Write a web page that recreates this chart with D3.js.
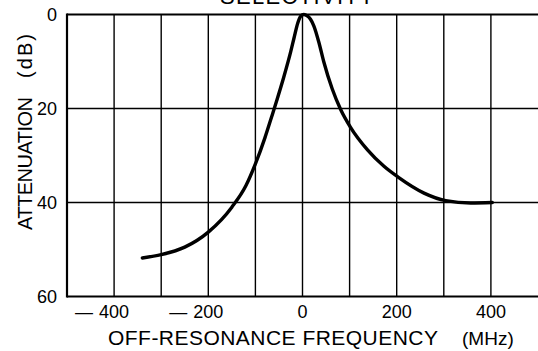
<!DOCTYPE html>
<html>
<head>
<meta charset="utf-8">
<script src="https://cdn.jsdelivr.net/npm/d3@7"></script>
<style>
  html, body { margin: 0; padding: 0; background: #fff; }
  svg { display: block; }
  text { font-family: "Liberation Sans", Arial, Helvetica, sans-serif; fill: #000; }
</style>
</head>
<body>
<svg id="chart" width="538" height="351"></svg>
<script>
// ---- data ----
const title = "SELECTIVITY";
const xTitle = "OFF-RESONANCE FREQUENCY";
const xUnit = "(MHz)";
const yTitle = "ATTENUATION";
const yUnit = "(dB)";
const xTicks = [-400, -200, 0, 200, 400];
const xGrid = [-400, -300, -200, -100, 0, 100, 200, 300, 400];
const yTicks = [0, 20, 40, 60];
const yGrid = [20, 40];
const freq = [-340, -300, -250, -200, -150, -120, -100, -80, -65, -55, -40, -25, -18, -10, -4, 3, 10, 17, 24, 35, 45, 63, 81, 102, 138, 173, 203, 258, 304, 357, 403];
const atten = [51.8, 51.1, 49.5, 46.3, 41.0, 36.4, 31.8, 26.3, 21.6, 18.4, 13.4, 7.9, 5.0, 1.8, 0.4, 0, 0.3, 1.0, 2.4, 6.0, 10.0, 15.8, 20.2, 24.0, 28.8, 32.3, 34.6, 38.0, 39.6, 40.1, 40.0];

// ---- chart ----
const svg = d3.select("#chart");
const x = d3.scaleLinear().domain([-500, 500]).range([67, 538]);
const y = d3.scaleLinear().domain([0, 60]).range([14.5, 296.5]);

// grid lines
svg.append("g").selectAll("line").data(xGrid).join("line")
  .attr("x1", d => x(d)).attr("x2", d => x(d))
  .attr("y1", y(0)).attr("y2", y(60))
  .attr("stroke", "#000").attr("stroke-width", 1.4);
svg.append("g").selectAll("line").data(yGrid).join("line")
  .attr("x1", x(-500)).attr("x2", x(500))
  .attr("y1", d => y(d)).attr("y2", d => y(d))
  .attr("stroke", "#000").attr("stroke-width", 1.4);

// frame: top, left, bottom
svg.append("line").attr("x1", x(-500)).attr("x2", x(500)).attr("y1", y(0)).attr("y2", y(0))
  .attr("stroke", "#000").attr("stroke-width", 2);
svg.append("line").attr("x1", x(-500)).attr("x2", x(500)).attr("y1", y(60)).attr("y2", y(60))
  .attr("stroke", "#000").attr("stroke-width", 2.2);
svg.append("line").attr("x1", x(-500)).attr("x2", x(-500)).attr("y1", y(0) - 1).attr("y2", y(60) + 1)
  .attr("stroke", "#000").attr("stroke-width", 2.2);

// y tick labels
svg.append("g").selectAll("text").data(yTicks).join("text")
  .attr("x", 57).attr("y", d => y(d) + 6)
  .attr("text-anchor", "end").attr("font-size", 18)
  .text(d => d);

// x tick labels (digits centred on the tick, long minus before negatives)
const xl = svg.append("g");
xl.selectAll("text.num").data(xTicks).join("text").attr("class", "num")
  .attr("x", d => x(d)).attr("y", 318)
  .attr("text-anchor", "middle").attr("font-size", 18)
  .text(d => Math.abs(d));
xl.selectAll("text.minus").data(xTicks.filter(d => d < 0)).join("text").attr("class", "minus")
  .attr("x", d => x(d) - 21).attr("y", 318)
  .attr("text-anchor", "end").attr("font-size", 18)
  .text("—");

// curve
const line = d3.line().x((d, i) => x(freq[i])).y(d => y(d)).curve(d3.curveMonotoneX);
svg.append("path").datum(atten).attr("d", line)
  .attr("fill", "none").attr("stroke", "#000").attr("stroke-width", 3.4)
  .attr("stroke-linecap", "round").attr("stroke-linejoin", "round");

// titles
svg.append("text").attr("x", 297).attr("y", 3.5).attr("text-anchor", "middle")
  .attr("font-size", 22).attr("textLength", 154).attr("lengthAdjust", "spacing").text(title);

svg.append("text").attr("x", 108).attr("y", 345).attr("font-size", 21)
  .attr("textLength", 330).attr("lengthAdjust", "spacing").text(xTitle);
svg.append("text").attr("x", 462).attr("y", 345).attr("font-size", 19)
  .text(xUnit);

svg.append("text").attr("transform", "translate(32,230) rotate(-90)").attr("font-size", 20)
  .attr("textLength", 133).attr("lengthAdjust", "spacing").text(yTitle);
svg.append("text").attr("transform", "translate(32,78) rotate(-90)").attr("font-size", 20)
  .attr("textLength", 44).attr("lengthAdjust", "spacing").text(yUnit);
</script>
</body>
</html>
